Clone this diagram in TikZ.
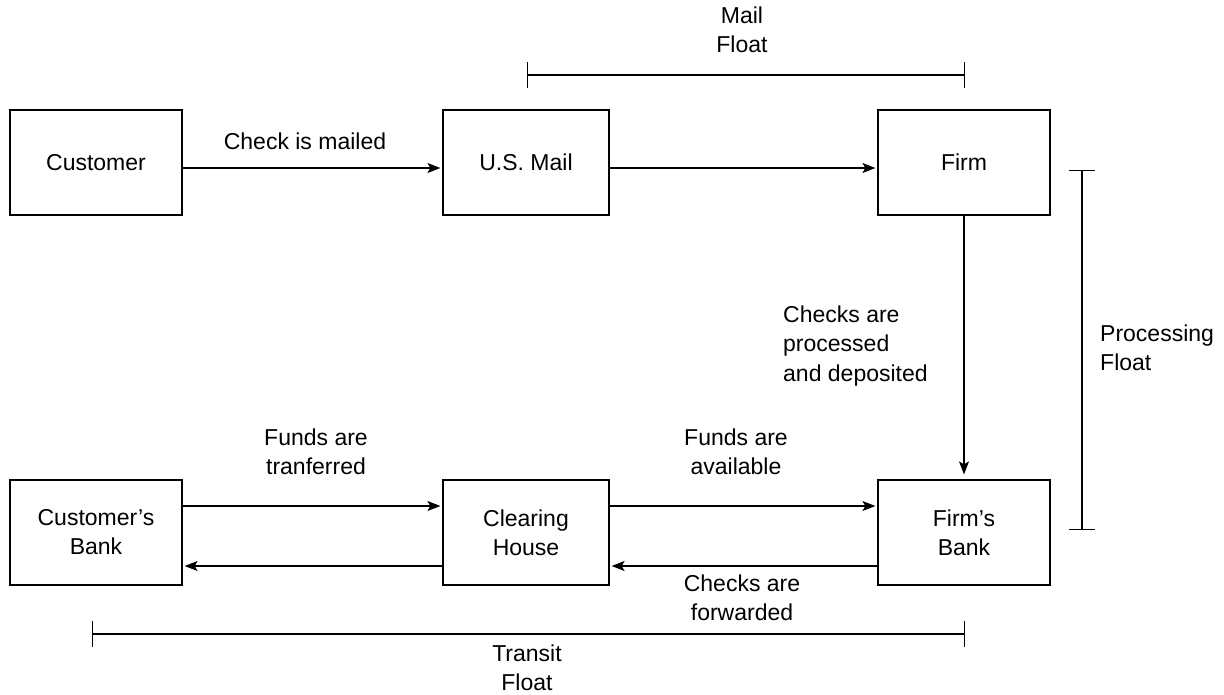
\documentclass[tikz,border=0pt]{standalone}
\usepackage{fontspec}
\setmainfont{Liberation Sans}
\usetikzlibrary{arrows.meta}
\begin{document}
\begin{tikzpicture}[x=1pt,y=-1pt,
  box/.style={draw,line width=1.2pt,minimum width=172pt,minimum height=105pt,inner sep=0pt,align=center,font=\fontsize{23}{29}\selectfont},
  midbox/.style={box,minimum width=166pt},
  lbl/.style={align=center,inner sep=0pt,font=\fontsize{23}{29.5}\selectfont},
  arr/.style={line width=1.2pt,-{Stealth[length=13pt,width=10pt,inset=3pt]},shorten >=2pt},
  span/.style={line width=1.2pt,{Bar[width=26pt]}-{Bar[width=26pt]}}]
\useasboundingbox (0,0) rectangle (1224,694);
% boxes
\node[box] (cust) at (96,162.5) {Customer};
\node[midbox] (mail) at (526,162.5) {U.S. Mail};
\node[box] (firm) at (964,162.5) {Firm};
\node[box] (cbank) at (96,532.5) {Customer's\\Bank};
\node[midbox] (clear) at (526,532.5) {Clearing\\House};
\node[box] (fbank) at (964,532.5) {Firm's\\Bank};
% arrows
\draw[arr] (cust.east |- 0,168) -- (mail.west |- 0,168);
\draw[arr] (mail.east |- 0,168) -- (firm.west |- 0,168);
\draw[arr,shorten >=5pt] (firm.south) -- (fbank.north);
\draw[arr] (cbank.east |- 0,506) -- (clear.west |- 0,506);
\draw[arr] (clear.east |- 0,506) -- (fbank.west |- 0,506);
\draw[arr] (fbank.west |- 0,566) -- (clear.east |- 0,566);
\draw[arr] (clear.west |- 0,566) -- (cbank.east |- 0,566);
% labels
\node[lbl] (l1) at (305,141) {Check is mailed};
\node[lbl,align=left,anchor=west] (l2) at (783,346) {Checks are\\processed\\and deposited};
\node[lbl] (l3) at (316,452) {Funds are\\tranferred};
\node[lbl] (l4) at (736,452) {Funds are\\available};
\node[lbl] (l5) at (742,598) {Checks are\\forwarded};
% float spans
\coordinate (m1) at (527,75);
\coordinate (m2) at (965,75);
\draw[span] (m1) -- (m2);
\node[lbl] (mf) at (742,30) {Mail\\Float};
\coordinate (p1) at (1082,170);
\coordinate (p2) at (1082,530);
\draw[span] (p1) -- (p2);
\node[lbl,align=left,anchor=west] (pf) at (1100,348) {Processing\\Float};
\coordinate (t1) at (92,634);
\coordinate (t2) at (965,634);
\draw[span] (t1) -- (t2);
\node[lbl] (tf) at (527,668) {Transit\\Float};
\end{tikzpicture}
\end{document}
